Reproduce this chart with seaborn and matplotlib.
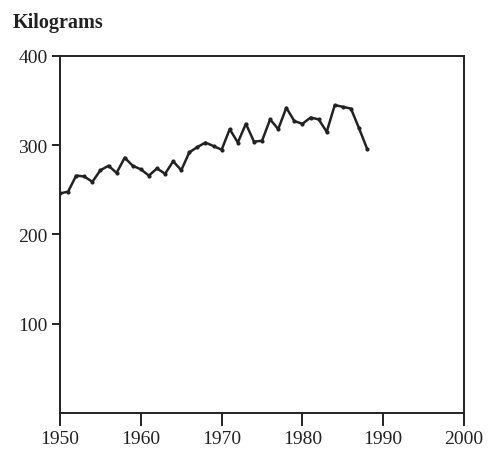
import matplotlib
matplotlib.use('Agg')
import matplotlib.pyplot as plt
import seaborn as sns
import pandas as pd

years = list(range(1950, 1989))
kilograms = [246, 248, 266, 265, 259, 272, 277, 269, 286, 277,
             273, 266, 274, 268, 282, 272, 292, 298, 303, 299,
             295, 318, 303, 324, 304, 305, 329, 318, 342, 327,
             324, 331, 329, 315, 345, 343, 341, 319, 296]
x_ticks = [1950, 1960, 1970, 1980, 1990, 2000]
y_ticks = [100, 200, 300, 400]

df = pd.DataFrame({'year': years, 'kg': kilograms})

sns.set_style('ticks')
plt.rcParams['font.family'] = ['Liberation Serif', 'DejaVu Serif']

fig = plt.figure(figsize=(4.88, 4.52), dpi=100)
ax = fig.add_axes([0.123, 0.084, 0.828, 0.790])

sns.lineplot(x='year', y='kg', data=df, ax=ax, color='#222222', linewidth=1.8,
             marker='o', markersize=3, markeredgewidth=0)

ax.set_xlim(1950, 2000)
ax.set_ylim(0, 400)
ax.set_xticks(x_ticks)
ax.set_yticks(y_ticks)
ax.set_xlabel('')
ax.set_ylabel('')
for s in ax.spines.values():
    s.set_visible(True)
    s.set_linewidth(1.4)
    s.set_color('#222222')
ax.tick_params(axis='x', length=9, width=1.4, labelsize=14, pad=3, colors='#222222')
ax.tick_params(axis='y', length=6, width=1.4, labelsize=14, pad=3, colors='#222222')

fig.text(0.025, 0.95, 'Kilograms', fontsize=14.5, fontweight='bold', color='#222222', va='center')

fig.savefig('out.png', dpi=100)
